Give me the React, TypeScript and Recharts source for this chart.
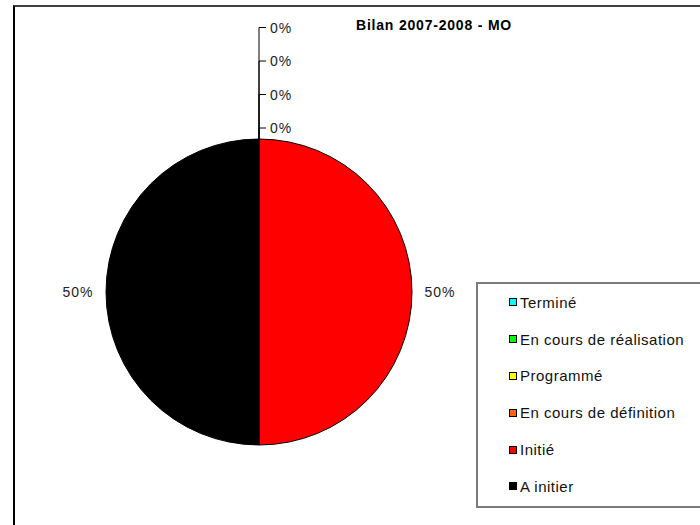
import React from "react"
import { PieChart, Pie, Cell, Legend } from "recharts"

const categories = [
  "Terminé",
  "En cours de réalisation",
  "Programmé",
  "En cours de définition",
  "Initié",
  "A initier",
]
const values = [0, 0, 0, 0, 1, 1]
const colors = ["#00FFFF", "#00FF00", "#FFFF00", "#FF6600", "#FF0000", "#000000"]

const pieData = categories.map((name, i) => ({ name, value: values[i], color: colors[i] }))

const FONT = "'Liberation Sans', Arial, sans-serif"
const RAD = Math.PI / 180

// Excel-style labels: zero slices get stacked leader ticks above the pie top
const renderLabel = (props: any) => {
  const { cx, cy, midAngle, outerRadius, percent, index, value } = props
  const text = `${Math.round(percent * 100)}%`
  if (value === 0) {
    const zeroCount = values.filter((v) => v === 0).length
    const top = cy - outerRadius
    const y = top - 11 - (zeroCount - 1 - index) * 33.5
    return (
      <g key={`lbl-${index}`}>
        <line x1={cx} y1={top} x2={cx} y2={y} stroke="#000" strokeWidth={1} />
        <line x1={cx} y1={y} x2={cx + 7} y2={y} stroke="#000" strokeWidth={1} />
        <text
          x={cx + 11}
          y={y}
          dominantBaseline="central"
          fontFamily={FONT}
          fontSize={14}
          letterSpacing={1}
          fill="#222"
        >
          {text}
        </text>
      </g>
    )
  }
  const r = outerRadius + 28
  const x = cx + r * Math.cos(-midAngle * RAD)
  const y = cy + r * Math.sin(-midAngle * RAD)
  return (
    <text
      key={`lbl-${index}`}
      x={x}
      y={y}
      textAnchor="middle"
      dominantBaseline="central"
      fontFamily={FONT}
      fontSize={14}
      letterSpacing={1}
      fill="#222"
    >
      {text}
    </text>
  )
}

const renderLegend = (props: any) => {
  const payload = [...(props.payload || [])].sort(
    (a: any, b: any) => categories.indexOf(a.value) - categories.indexOf(b.value)
  )
  return (
    <div
      style={{
        boxSizing: "border-box",
        width: 226,
        height: 226,
        border: "2px solid #7a7a7a",
        paddingLeft: 31,
        background: "#fff",
      }}
    >
      {payload.map((entry: any, i: number) => (
        <div
          key={`leg-${i}`}
          style={{
            height: 36.8,
            display: "flex",
            alignItems: "center",
            fontFamily: FONT,
            fontSize: 15,
            letterSpacing: 0.5,
            color: "#111",
            whiteSpace: "nowrap",
          }}
        >
          <span
            style={{
              display: "inline-block",
              boxSizing: "border-box",
              width: 8,
              height: 8,
              background: entry.color,
              border: "1px solid #000",
              marginRight: 3,
            }}
          />
          {entry.value}
        </div>
      ))}
    </div>
  )
}

export default function App() {
  return (
    <div
      style={{
        position: "absolute",
        left: 0,
        top: 0,
        width: 700,
        height: 525,
        overflow: "hidden",
        background: "#fff",
      }}
    >
      <div
        style={{
          position: "absolute",
          left: 13,
          top: 5,
          width: 720,
          height: 560,
          borderTop: "2px solid #404040",
          borderLeft: "2px solid #000",
        }}
      />
      <div
        style={{
          position: "absolute",
          left: 284,
          top: 16,
          width: 300,
          textAlign: "center",
          fontFamily: FONT,
          fontWeight: "bold",
          fontSize: 14,
          letterSpacing: 0.8,
          lineHeight: "18px",
          color: "#000",
        }}
      >
        Bilan 2007-2008 - MO
      </div>
      <div style={{ position: "absolute", left: 0, top: 0 }}>
        <PieChart width={700} height={525} margin={{ top: 0, right: 0, bottom: 0, left: 0 }}>
          <Pie
            data={pieData}
            dataKey="value"
            nameKey="name"
            cx={259}
            cy={292}
            outerRadius={153}
            startAngle={90}
            endAngle={-270}
            stroke="#000"
            strokeWidth={1}
            label={renderLabel}
            labelLine={false}
            isAnimationActive={false}
          >
            {pieData.map((entry, i) => (
              <Cell key={`cell-${i}`} fill={entry.color} />
            ))}
          </Pie>
          <Legend
            content={renderLegend}
            layout="vertical"
            align="right"
            verticalAlign="top"
            wrapperStyle={{ position: "absolute", left: 476, top: 282, width: 226, height: 226 }}
          />
        </PieChart>
      </div>
    </div>
  )
}
